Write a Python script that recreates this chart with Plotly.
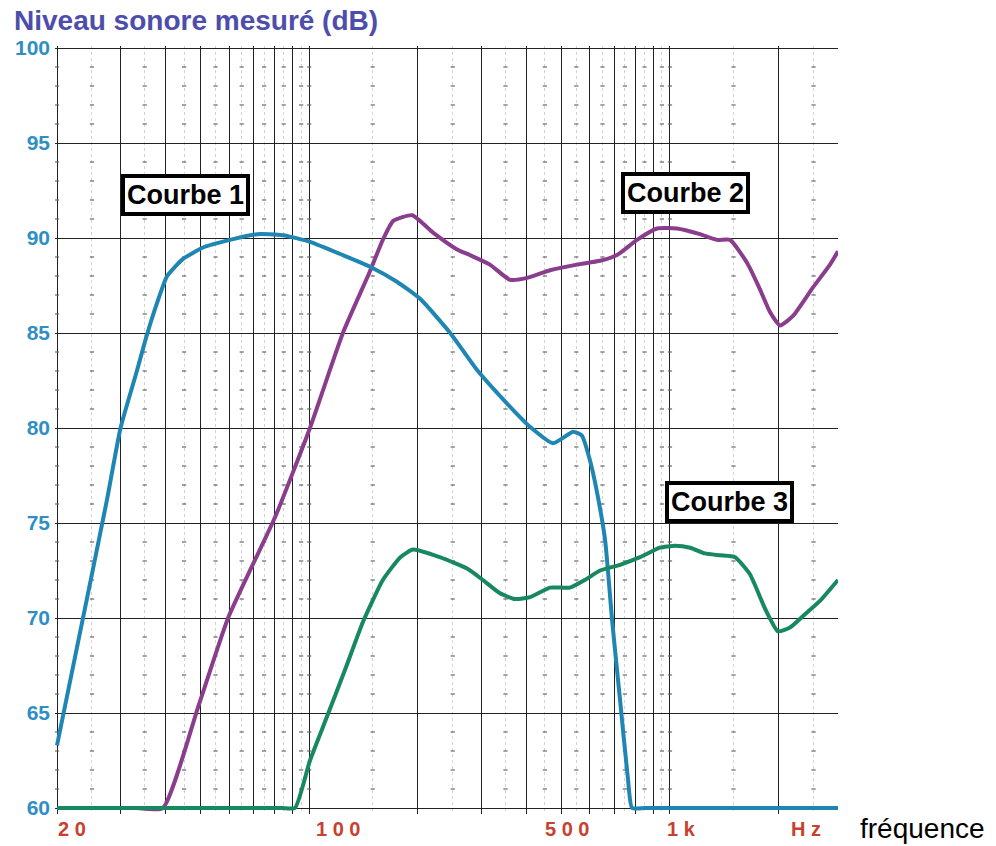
import plotly.graph_objects as go
import math

# ---------------- data ----------------
freq_c1 = [20, 23.2, 27.5, 30, 33.3, 35.5, 37.9, 40.4, 44.7, 50.8, 60.3, 71.7, 84.6, 100.5, 124, 147,
           175, 203, 246, 292, 353, 410, 474, 539, 570, 600, 628, 661, 691, 727, 765, 785,
           850, 1000, 1300, 1700, 2200, 2922]
db_c1 = [63.3, 69.3, 76.2, 80, 83.0, 84.9, 86.6, 88.0, 88.9, 89.5, 89.9, 90.2, 90.15, 89.8, 89.1, 88.5,
         87.7, 86.8, 85, 83.05, 81.3, 80.05, 79.2, 79.8, 79.6, 78.3, 76.6, 74.1, 69.9, 65.7, 61.5, 60,
         60, 60, 60, 60, 60, 60]

freq_c2 = [20, 26, 33, 39.3, 49.2, 59.6, 80.4, 100.5, 124, 147, 160, 171, 193, 220, 257, 279, 317, 360, 402,
           465, 552, 640, 713, 810, 921, 1046, 1211, 1350, 1467, 1635, 1776, 1893, 2018, 2193, 2491, 2777, 2922]
db_c2 = [60, 60, 60, 60, 65.3, 70, 75.3, 80, 85, 88.2, 89.9, 90.9, 91.2, 90.3, 89.4, 89.1, 88.6, 87.8, 87.9,
         88.3, 88.6, 88.8, 89.1, 89.9, 90.5, 90.5, 90.2, 89.9, 89.9, 88.7, 87.3, 86.1, 85.4, 85.9, 87.4, 88.6, 89.3]

freq_c3 = [20, 28, 40, 55, 70, 84, 91.3, 100.5, 112, 127, 141, 160, 179, 194, 230, 274, 303, 338, 372, 410,
           465, 528, 581, 640, 727, 826, 938, 1033, 1137, 1250, 1376, 1515, 1666, 1834, 1992, 2151, 2367,
           2605, 2922]
db_c3 = [60, 60, 60, 60, 60, 60, 60, 62.5, 64.8, 67.5, 69.8, 72.0, 73.2, 73.6, 73.2, 72.6, 72, 71.3, 71, 71.1,
         71.6, 71.6, 72, 72.5, 72.8, 73.2, 73.7, 73.8, 73.7, 73.4, 73.3, 73.2, 72.3, 70.5, 69.3, 69.5, 70.2,
         70.9, 72]

curve_names = ["Courbe 1", "Courbe 2", "Courbe 3"]
curve_colors = ["#1f86b4", "#8a3d8c", "#17885f"]
# label box positions (frequency, dB)
label_freq = [45.3, 1101, 1458]
label_db = [92.26, 92.37, 76.1]

# axis ticks
x_major = [20, 30, 40, 50, 60, 70, 80, 90, 100, 200, 300, 400, 500, 600, 700, 800, 900, 1000, 2000]
x_minor = [25, 35, 45, 55, 65, 75, 85, 95, 150, 250, 350, 450, 550, 650, 750, 850, 950, 1500, 2500]
x_decades = [20, 100, 1000]
x_label_text = ["2 0", "1 0 0", "5 0 0", "1 k", "H z"]
x_label_freq = [20, 100, 500, 1000, 2000]
x_label_shift = [15, 29, 6, 12, 27]
y_major = [60, 65, 70, 75, 80, 85, 90, 95, 100]
y_minor = [v for v in range(61, 100) if v % 5 != 0]

FONT = "Liberation Sans, Arial, sans-serif"

fig = go.Figure()

# small dB marks on the dotted columns
dot_x = [fx for fx in x_minor + x_decades for _ in y_minor]
dot_y = [fy for _ in x_minor + x_decades for fy in y_minor]
fig.add_trace(go.Scatter(x=dot_x, y=dot_y, mode="markers",
                         marker=dict(symbol="line-ew", size=3, line=dict(width=1.2, color="#666")),
                         hoverinfo="skip", showlegend=False))

for fx, dy, name, col in [(freq_c2, db_c2, curve_names[1], curve_colors[1]),
                          (freq_c1, db_c1, curve_names[0], curve_colors[0]),
                          (freq_c3, db_c3, curve_names[2], curve_colors[2])]:
    fig.add_trace(go.Scatter(x=fx, y=dy, mode="lines", name=name,
                             line=dict(color=col, width=4, shape="spline", smoothing=0.5),
                             showlegend=False))

annotations = []
for name, fx, dy in zip(curve_names, label_freq, label_db):
    annotations.append(dict(x=math.log10(fx), y=dy, xref="x", yref="y", text="<b>" + name + "</b>",
                            showarrow=False, font=dict(family=FONT, size=27, color="black"),
                            bgcolor="white", bordercolor="black", borderwidth=4, borderpad=2))
for txt, fx, sh in zip(x_label_text, x_label_freq, x_label_shift):
    annotations.append(dict(x=math.log10(fx), y=0, xref="x", yref="paper", text="<b>" + txt + "</b>",
                            showarrow=False, xshift=sh, yshift=-15, yanchor="middle", xanchor="center",
                            font=dict(family=FONT, size=20, color="#c8402e")))
annotations.append(dict(x=1, y=0, xref="paper", yref="paper", text="fréquence", showarrow=False,
                        xanchor="left", yanchor="middle", xshift=20, yshift=-14,
                        font=dict(family=FONT, size=28, color="black")))
annotations.append(dict(x=0, y=1, xref="paper", yref="paper", xshift=12 - 55, yshift=46 - 20,
                        text="<b>Niveau sonore mesuré (dB)</b>", showarrow=False,
                        xanchor="left", yanchor="middle",
                        font=dict(family=FONT, size=28, color="#4d4dab")))

fig.update_layout(
    width=996, height=846,
    margin=dict(l=55, r=158, t=46, b=32, autoexpand=False),
    paper_bgcolor="white", plot_bgcolor="white",
    hovermode=False,
    annotations=annotations,
    xaxis=dict(type="log", range=[math.log10(20) - 2 / 360.8, 3.4657], automargin=False,
               tickvals=x_major, showticklabels=False, ticks="",
               showgrid=True, gridcolor="#222", gridwidth=1.3, zeroline=False, showline=False,
               minor=dict(tickvals=x_minor, showgrid=True, gridcolor="#d2d2d2", griddash="dot",
                          gridwidth=1, ticks="")),
    yaxis=dict(range=[59.684, 100.105], tickvals=y_major, ticks="", automargin=False,
               showgrid=True, gridcolor="#222", gridwidth=1.3, zeroline=False, showline=False,
               tickfont=dict(family=FONT, size=21, color="#2f8fc4", weight="bold"),
               ticklabelstandoff=4),
)

fig.write_html("out.html", config={"displayModeBar": False},
               post_script="document.body.style.margin='0';document.body.style.padding='0';")
